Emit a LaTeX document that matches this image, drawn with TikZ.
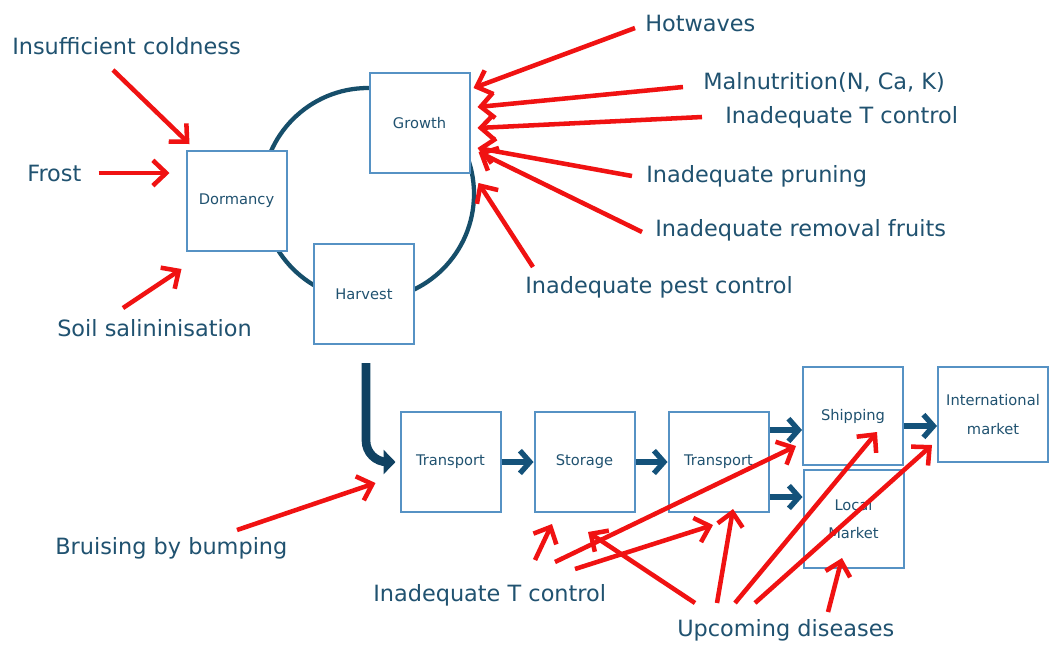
\documentclass[tikz,border=0pt]{standalone}
\usepackage{xcolor}
\usepackage{fontspec}
\setmainfont{DejaVu Sans}
\usepackage{tikz}
\usetikzlibrary{positioning, arrows.meta}

\definecolor{txtblue}{RGB}{32,82,112}
\definecolor{boxblue}{RGB}{86,146,196}
\definecolor{cycleblue}{RGB}{22,78,106}
\definecolor{flowblue}{RGB}{20,82,122}
\definecolor{causered}{RGB}{240,18,18}

\begin{document}
\begin{tikzpicture}[
    x=0.75pt, y=-0.75pt,
    stage/.style={rectangle, draw=boxblue, line width=1.5pt, fill=white, minimum width=75pt, minimum height=75pt, align=center, text=txtblue, font=\fontsize{11}{21.5}\selectfont},
    factor/.style={anchor=west, inner sep=0pt, text=txtblue, font=\fontsize{16.8}{20}\selectfont},
    flow/.style={draw=flowblue, line width=4pt, -{Straight Barb[length=7.5pt, width=17pt]}},
    bigflow/.style={draw=flowblue!80!black, line width=6.5pt, rounded corners=16pt, -{Triangle[length=9pt, width=18pt]}},
    cause/.style={draw=causered, line width=3.4pt, -{Straight Barb[length=10pt, width=19pt]}}
]
\useasboundingbox[fill=white] (0,0) rectangle (1050,644);

% Cycle
\draw[cycleblue, line width=3.2pt] (368,194) circle [radius=79.5pt];

% Stages
\node[stage] (growth) at (419.5,123) {Growth};
\node[stage] (dormancy) at (236.5,201) {Dormancy};
\node[stage] (harvest) at (364,294) {Harvest};
\node[stage] (transA) at (450.5,462) {Transport};
\node[stage] (storage) at (584.5,462) {Storage};
\node[stage] (transB) at (718.5,462) {Transport};
\node[stage, minimum height=73.5pt] (shipping) at (853,416) {Shipping};
\node[stage, minimum height=73.5pt] (local) at (853.5,519) {Local\\Market};
\node[stage, minimum width=82.5pt, minimum height=71pt] (intl) at (993,414.5) {International\\market};

% Factors
\node[factor] (coldness) at (12,46) {Insufficient coldness};
\node[factor] (frost) at (27,173) {Frost};
\node[factor] (soil) at (57,328) {Soil salininisation};
\node[factor] (hot) at (645,23) {Hotwaves};
\node[factor] (malnut) at (703,82) {Malnutrition(N, Ca, K)};
\node[factor] (tgrowth) at (725,117) {Inadequate T control};
\node[factor] (pruning) at (646,176) {Inadequate pruning};
\node[factor] (removal) at (655,230) {Inadequate removal fruits};
\node[factor] (pest) at (525,287) {Inadequate pest control};
\node[factor] (bruising) at (55,548) {Bruising by bumping};
\node[factor] (tchain) at (373,595) {Inadequate T control};
\node[factor] (disease) at (677,630) {Upcoming diseases};

% Chain
\draw[bigflow] ([shift={(2,18)}]harvest.south) |- ([shift={(-4,0)}]transA.west);
\draw[flow] (transA) -- (storage);
\draw[flow] (storage) -- (transB);
\draw[flow] ([shift={(0,-32)}]transB.east) -- ([shift={(0,14)}]shipping.west);
\draw[flow] ([shift={(0,35)}]transB.east) -- ([shift={(0,-22)}]local.west);
\draw[flow] ([shift={(0,10)}]shipping.east) -- ([shift={(0,11.5)}]intl.west);

% Causes
\draw[cause] ([shift={(101,24)}]coldness.west) -- ([shift={(4,-6)}]dormancy.north west);
\draw[cause] ([shift={(17,0)}]frost.east) -- ([shift={(-16,-28)}]dormancy.west);
\draw[cause] ([shift={(66,-20)}]soil.west) -- ([shift={(-4,17)}]dormancy.south west);

\draw[cause] ([shift={(-10,5)}]hot.west) -- ([shift={(3,-35)}]growth.east);
\draw[cause] ([shift={(-20,5)}]malnut.west) -- ([shift={(7,-16)}]growth.east);
\draw[cause] ([shift={(-23,0)}]tgrowth.west) -- ([shift={(7,5)}]growth.east);
\draw[cause] ([shift={(-14,0)}]pruning.west) -- ([shift={(7,25)}]growth.east);
\draw[cause] ([shift={(-13,2)}]removal.west) -- ([shift={(8,29)}]growth.east);
\draw[cause] ([shift={(8,-20)}]pest.west) -- ([shift={(8,60)}]growth.east);

\draw[cause] ([shift={(182,-18)}]bruising.west) -- ([shift={(-24,21)}]transA.west);

\draw[cause] ([shift={(162,-35)}]tchain.west) -- ([shift={(-32.5,11)}]storage.south);
\draw[cause] ([shift={(182,-33)}]tchain.west) -- ([shift={(-6,-20)}]shipping.south west);
\draw[cause] ([shift={(202,-26)}]tchain.west) -- ([shift={(-5.5,12)}]transB.south);

\draw[cause] ([shift={(18,-27)}]disease.west) -- ([shift={(3.5,19)}]storage.south);
\draw[cause] ([shift={(40,-27)}]disease.west) -- ([shift={(14.5,-4)}]transB.south);
\draw[cause] ([shift={(58,-27)}]disease.west) -- ([shift={(24,16)}]shipping.center);
\draw[cause] ([shift={(78,-27)}]disease.west) -- ([shift={(-5,30.5)}]intl.west);
\draw[cause] ([shift={(151,-18)}]disease.west) -- ([shift={(-11.5,-11)}]local.south);

\end{tikzpicture}
\end{document}
